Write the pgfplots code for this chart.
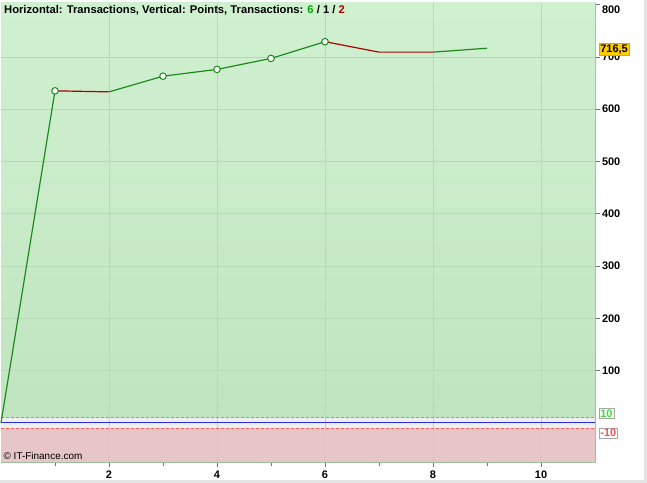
\documentclass[border=0pt]{standalone}
\usepackage{pgfplots}
\pgfplotsset{compat=1.18}
\usepackage{fontspec}
\setmainfont{Liberation Sans}
\definecolor{gTop}{HTML}{D0F1D0}
\definecolor{gBot}{HTML}{C0E4C0}
\definecolor{redzone}{HTML}{E6C6C6}
\definecolor{midband}{HTML}{ECF0F0}
\definecolor{gridc}{HTML}{B8D9B8}
\definecolor{axisc}{HTML}{9CBF9C}
\definecolor{lineG}{HTML}{1E8A1E}
\definecolor{lineR}{HTML}{B00000}
\definecolor{gold}{HTML}{FFCC00}
\definecolor{frame}{HTML}{E4E4E4}
\definecolor{zeroblue}{HTML}{2A2AE6}
\begin{document}
\begin{tikzpicture}
\fill[white] (0,0) rectangle (647bp,483bp);
\fill[frame] (644bp,0) rectangle (647bp,483bp);
\fill[frame] (0,0) rectangle (647bp,3bp);
\begin{axis}[
  at={(1bp,21bp)}, anchor=south west,
  scale only axis, width=594bp, height=459bp,
  xmin=0, xmax=11, ymin=-75, ymax=803,
  xtick={2,4,6,8,10}, minor xtick={1,3,5,7,9},
  ytick={100,200,...,800},
  yticklabels={100,200,300,400,500,600,700,\raisebox{-8.5bp}[0pt][0pt]{800}},
  xtick pos=left, ytick pos=right, yticklabel pos=right,
  tick align=outside,
  major tick length=5bp, minor tick length=4bp,
  axis line style={draw=axisc, line width=0.8bp},
  tick style={color=black!55, line width=0.6bp},
  ticklabel style={font=\bfseries\fontsize{11}{12}\selectfont},
  /pgf/number format/assume math mode=true,
  yticklabel style={xshift=-1.5bp},
  xticklabel style={yshift=0bp},
  clip=false,
]
\addplot[draw=none, top color=gTop, bottom color=gBot, forget plot] coordinates {(0,10)(11,10)(11,803)(0,803)} -- cycle;
\addplot[draw=none, fill=midband, forget plot] coordinates {(0,-10)(11,-10)(11,10)(0,10)} -- cycle;
\addplot[draw=none, fill=redzone, forget plot] coordinates {(0,-75)(11,-75)(11,-10)(0,-10)} -- cycle;
\addplot[gridc, line width=0.6bp, forget plot] coordinates {(2,-75)(2,803)};
\addplot[gridc, line width=0.6bp, forget plot] coordinates {(4,-75)(4,803)};
\addplot[gridc, line width=0.6bp, forget plot] coordinates {(6,-75)(6,803)};
\addplot[gridc, line width=0.6bp, forget plot] coordinates {(8,-75)(8,803)};
\addplot[gridc, line width=0.6bp, forget plot] coordinates {(10,-75)(10,803)};
\addplot[gridc, line width=0.6bp, forget plot] coordinates {(0,100)(11,100)};
\addplot[gridc, line width=0.6bp, forget plot] coordinates {(0,200)(11,200)};
\addplot[gridc, line width=0.6bp, forget plot] coordinates {(0,300)(11,300)};
\addplot[gridc, line width=0.6bp, forget plot] coordinates {(0,400)(11,400)};
\addplot[gridc, line width=0.6bp, forget plot] coordinates {(0,500)(11,500)};
\addplot[gridc, line width=0.6bp, forget plot] coordinates {(0,600)(11,600)};
\addplot[gridc, line width=0.6bp, forget plot] coordinates {(0,700)(11,700)};
\addplot[draw=green!60!black!60, dash pattern=on 3bp off 2bp, line width=0.8bp, forget plot] coordinates {(0,10)(11,10)};
\addplot[draw=red!65!white, dash pattern=on 3bp off 2bp, line width=0.8bp, forget plot] coordinates {(0,-10)(11,-10)};
\addplot[draw=zeroblue, line width=1.2bp, forget plot] coordinates {(0,0)(11,0)};
\addplot[lineG, line width=1.2bp] coordinates {(0,0)(1,635)};
\addplot[lineR, line width=1.2bp] coordinates {(1,635)(2,633)};
\addplot[lineG, line width=1.2bp] coordinates {(2,633)(3,663)(4,676)(5,697)(6,729)};
\addplot[lineR, line width=1.2bp] coordinates {(6,729)(7,709)(8,709)};
\addplot[lineG, line width=1.2bp] coordinates {(8,709)(9,716.5)};
\addplot[only marks, mark=*, mark size=3.3bp, mark options={fill=white, draw=lineG, line width=1bp}] coordinates {(1,635)(3,663)(4,676)(5,697)(6,729)};
\node[anchor=north west, inner sep=0pt, font=\bfseries\fontsize{11.25}{13}\selectfont] at (axis cs:0.055,798) {Horizontal: Transactions, Vertical: Points, Transactions: \textcolor{green!65!black}{6} / 1 / \textcolor{lineR}{2}};
\node[anchor=south west, inner sep=0pt, font=\fontsize{10}{12}\selectfont] at (axis cs:0.045,-70) {© IT-Finance.com};
\node[anchor=west, fill=gold, draw=black!35, inner sep=1.2pt, font=\bfseries\fontsize{11}{12}\selectfont, xshift=4bp, yshift=-1bp] at (axis cs:11,716.5) {716,5};
\node[anchor=west, fill=white!95!green, draw=black!35, inner sep=1.2pt, text=green!75!black!70, font=\bfseries\fontsize{11}{12}\selectfont, xshift=4bp, yshift=4bp] at (axis cs:11,10) {10};
\node[anchor=west, fill=white, draw=black!35, inner sep=1.2pt, text=red!70, font=\bfseries\fontsize{11}{12}\selectfont, xshift=4bp, yshift=-5bp] at (axis cs:11,-10) {-10};
\end{axis}
\pgfresetboundingbox
\useasboundingbox (0,0) rectangle (647bp,483bp);
\end{tikzpicture}
\end{document}
